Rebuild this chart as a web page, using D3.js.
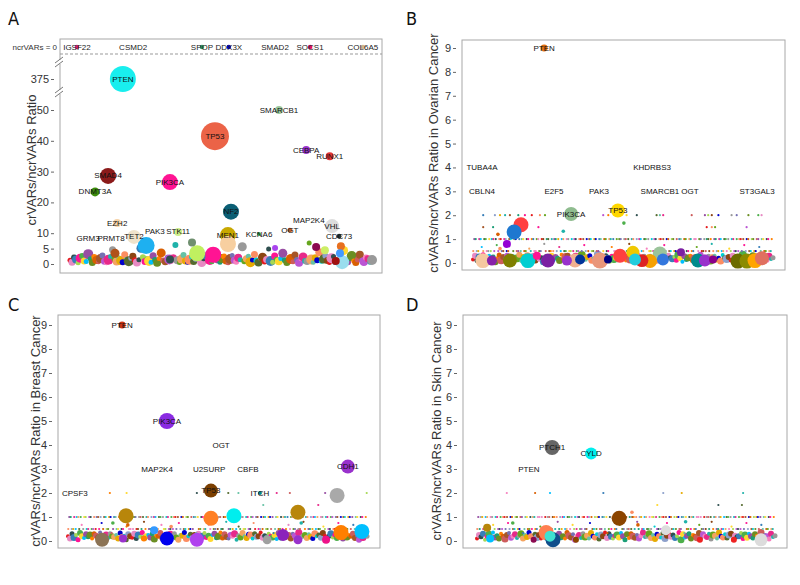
<!DOCTYPE html>
<html><head><meta charset="utf-8">
<script src="https://cdn.jsdelivr.net/npm/d3@7/dist/d3.min.js"></script>
<style>body{margin:0;background:#fff}</style>
</head><body>
<svg id="c" width="800" height="585"></svg>
<script>
// ---------------- DATA ----------------
// Panel A (all cancers) : labelled / notable genes
const aGenes = ["PTEN","TP53","SMARCB1","CEBPA","RUNX1","SMAD4","PIK3CA","DNMT3A","NF2","EZH2","MAP2K4","VHL","OGT","KCNA6","STK11","PAK3","MEN1","TET2","PRMT8","GRM3","CDC73","","","","","","","","","","","","","",""];
const aIdx   = [175,480,692,782,860,126,331,83,533,156,791,868,728,626,358,281,523,212,136,60,891,252,404,474,421,523,815,897,901,149,844,894,880,331,679];
const aRatio = [375,41.5,50,37,35,28.6,26.6,23.4,17,13.3,14,12.3,11,9.7,10.4,10.6,9.4,8.8,8.2,8.2,9,6,7,3,3.5,6.5,5.5,5.8,0.6,3.5,4.5,3.5,1,1.5,5.2];
const aCount = [169,196,16,16,16,64,64,20,64,16,4,49,6,4,16,4,64,49,4,4,6,72,16,64,64,64,16,16,49,20,16,16,16,16,9];
const aColor = ["#19EEEE","#EB6347","#9CC79C","#9933CC","#E23333","#8B1A1A","#FF1493","#3C8C0C","#0B5F75","#F6D3A8","#FFFFFF","#DDDDDD","#C0602A","#33AA55","#CCEE88","#FFFFFF","#C8A800","#EFE3CB","#FFFFFF","#FFFFFF","#223333","#1EB0F0","#6F8F6F","#FF1493","#C0F060","#F7CFA0","#8B0A50","#E8701F","#99DDEE","#B0521A","#CCEE66","#4499FF","#A01010","#2F4F4F","#AA44EE"];
// Panel A genes with ncrVARs = 0
const aTopGenes = ["IGSF22","CSMD2","SPOP","DDX3X","SMAD2","SOCS1","COL6A5"];
const aTopIdx   = [23,209,437,526,679,795,970];
const aTopColor = ["#DD2277","#FFFFFF","#339966","#0000CC","#FFFFFF","#DD1166","#D2B48C"];
const aTicks = [0,5,10,20,30,40,50,375];
// Panel A dense background ratios
const aBg = [1.2,0.6,2.1,1.5,0.4,1.9,2.6,1.0,0.8,3.2,1.7,0.5,2.3,1.3,0.7,1.8,2.8,0.9,0.4,1.4,
 2.4,4.6,1.6,0.8,2.0,1.1,0.6,3.0,1.5,0.9,1.9,2.5,1.2,0.5,1.4,5.1,2.2,0.8,1.7,1.0,
 0.6,2.7,1.3,0.4,1.8,3.6,1.1,0.7,2.2,1.5,0.9,2.0,6.2,1.2,0.5,1.6,2.9,1.0,0.6,1.4,
 2.3,0.8,1.7,3.3,1.2,0.5,1.9,2.6,0.9,1.3,0.7,2.1,4.2,1.5,0.6,1.8,2.4,1.0,0.4,1.6,
 2.8,1.2,0.7,2.0,1.4,5.6,0.9,1.7,2.5,0.6,1.3,3.1,1.1,0.5,1.9,2.2,0.8,1.5,4.9,1.0,
 0.6,2.6,1.4,0.9,1.8,3.5,1.2,0.5,2.1,1.6,0.7,2.9,1.3,0.4,1.7,2.3,1.0,0.8,6.8,1.5,
 0.6,2.0,1.2,3.8,0.9,1.6,2.7,1.1,0.5,1.9,2.4,0.8,1.4,0.6,2.2,4.4,1.3,0.7,1.8,2.6,
 1.0,0.5,1.5,3.0,1.2,0.8,2.1,1.7,0.6,1.3];

// Panel B (ovarian)
const bGenes = ["PTEN","PIK3CA","TP53","TUBA4A","CBLN4","E2F5","PAK3","KHDRBS3","SMARCB1","OGT","ST3GAL3","","","","","","","","","","","","","","","","","","","","","","","","","","","","",""];
const bIdx   = [237,327,483,30,30,270,420,597,623,723,947,160,137,113,533,693,623,33,63,123,183,213,250,313,340,357,423,450,490,540,563,590,633,750,773,800,883,913,940,963,973,943];
const bRatio = [9,2.05,2.2,4,3,3,3,4,3,3,3,1.6,1.3,0.8,0.45,0.45,0.4,0.1,0.1,0.1,0.1,0.3,0.1,0.1,0.1,0.15,0.1,0.15,0.3,0.15,0.1,0.08,0.15,0.1,0.1,0.15,0.08,0.08,0.1,0.2,0.1,0.55];
const bCount = [12,49,49,2,2,2,2,2,2,2,2,56,56,16,42,16,49,56,25,49,56,16,49,25,49,25,64,16,49,36,42,49,36,49,36,16,56,56,56,49,49,16];
const bColor = ["#E07010","#8FBC8F","#FFD700","#FFFFFF","#FFFFFF","#FFFFFF","#FFFFFF","#FFFFFF","#FFFFFF","#FFFFFF","#FFFFFF","#FF4040","#1E78D0","#9400D3","#F0C800","#7B1FA2","#9BC49B","#F5C8A0","#8822AA","#7F7F00","#00CED1","#FF1493","#7B1FA2","#9932CC","#F0B090","#003399","#E9967A","#000080","#FF4040","#22CCDD","#DD2222","#F5A000","#3377DD","#008B8B","#9932CC","#8B008B","#6B6B00","#8B8B00","#FFA500","#E07060","#00BFFF","#DD6655"];
const bRow2  = [34,73,90,107,123,151,173,196,223,240,434,451,512,546,612,623,634,729,773,784,796,818,862,879,918,951,962];
const bRow15 = [34,67,218,779,796,807,912];
const bExtraIdx = [503,83,301,90];
const bExtraRatio = [1.67,1.2,1.33,0.6];
const bLow = [0.15,0.3,0.1,0.25,0.2,0.35,0.1,0.2,0.3,0.15,0.25,0.05,0.2,0.33,0.12,0.25,0.18,0.3,0.1,0.22,
 0.28,0.14,0.2,0.35,0.08,0.25,0.17,0.3,0.12,0.2,0.25,0.1,0.33,0.18,0.22,0.05,0.28,0.15,0.2,0.3,
 0.12,0.25,0.2,0.1,0.35,0.17,0.25,0.3,0.08,0.2,0.15,0.28,0.22,0.1,0.33,0.2,0.14,0.25,0.3,0.12,
 0.2,0.18,0.35,0.1,0.25,0.15,0.3,0.2,0.05,0.28,0.17,0.22,0.12,0.33,0.2,0.25,0.1,0.3,0.15,0.2,
 0.25,0.08,0.33,0.2,0.14,0.28,0.1,0.22,0.3,0.17,0.2,0.12,0.35,0.25,0.15,0.2,0.1,0.3,0.22,0.18,
 0.25,0.12,0.33,0.2,0.05,0.28,0.15,0.22,0.3,0.1,0.2,0.25,0.14,0.35,0.18,0.2,0.12,0.28,0.1,0.25,
 0.3,0.15,0.2,0.08,0.33,0.22,0.17,0.25,0.1,0.3,0.2,0.14,0.28,0.12,0.35,0.2,0.25,0.1,0.18,0.3,
 0.22,0.15,0.25,0.05,0.33,0.2,0.12,0.28,0.17,0.22];
const bMid = [1,0.5,1,0.67,1,0.5,1,1,0.5,0.75,1,0.5,1,0.5,1,0.33,1,0.5,1,1,
 0.5,1,0.6,1,0.5,1,0.5,1,0.8,1,0.5,1,1,0.5,0.67,1,0.5,1,0.5,1,
 1,0.5,1,0.5,0.75,1,1,0.5,1,0.5,1,0.33,1,0.5,1,0.67,0.5,1,1,0.5,
 1,0.5,0.8,1,0.5,1,1,0.5,1,0.6,0.5,1,1,0.5,1,0.5,0.75,1,0.5,1,
 0.5,1,1,0.33,1,0.5,1,0.5,1,0.67,1,0.5,1,1,0.5,0.8,1,0.5,1,0.5,
 1,0.5,0.6,1,0.5,1,1,0.5,0.75,1,0.5,1,0.5,1,0.67,1,0.5,1,0.5,1];

// Panel C (breast)
const cGenes = ["PTEN","PIK3CA","OGT","MAP2K4","U2SURP","CBFB","CDH1","TP53","ITCH","CPSF3","","","","","","","","","","","","","","","","",""];
const cIdx   = [181,331,512,298,472,602,936,478,642,23,900,194,478,555,769,114,184,254,331,288,431,666,719,769,863,913,983];
const cRatio = [9,5,4,3,3,3,3.1,2.1,2,2,1.9,1.05,0.95,1.05,1.2,0.05,0.1,0.1,0.1,0.45,0.05,0.05,0.25,0.05,0.05,0.35,0.4];
const cCount = [12,64,2,2,2,2,49,49,4,2,56,56,56,56,56,49,16,9,49,16,49,20,36,20,16,56,56];
const cColor = ["#CC3311","#8A2BE2","#FFFFFF","#FFFFFF","#FFFFFF","#FFFFFF","#9932CC","#7B3F00","#00868B","#FFFFFF","#A9A9A9","#B8860B","#FF7F24","#00EEEE","#B8860B","#8B7355","#9932CC","#FF7F00","#0000EE","#3399FF","#B041EE","#A0A0A0","#8B22BB","#9932CC","#EE1289","#FF7F00","#00BFFF"];
const cRow2  = [140,196,431,536,570,698,742,860,999];
const cRow15 = [653,837];
const cExtraIdx = [150,200,780,345];
const cExtraRatio = [0.75,0.67,0.75,0.6];
const cLow = [0.2,0.1,0.3,0.15,0.25,0.05,0.33,0.2,0.12,0.28,0.18,0.25,0.1,0.3,0.22,0.15,0.35,0.08,0.2,0.25,
 0.12,0.3,0.2,0.17,0.25,0.1,0.33,0.15,0.22,0.05,0.28,0.2,0.14,0.3,0.1,0.25,0.18,0.35,0.12,0.2,
 0.25,0.15,0.3,0.08,0.22,0.2,0.33,0.12,0.25,0.17,0.1,0.28,0.2,0.3,0.15,0.05,0.25,0.22,0.35,0.1,
 0.2,0.28,0.12,0.25,0.18,0.3,0.1,0.2,0.33,0.15,0.22,0.08,0.25,0.3,0.14,0.2,0.35,0.12,0.28,0.17,
 0.1,0.25,0.2,0.3,0.05,0.22,0.15,0.33,0.2,0.12,0.28,0.25,0.1,0.3,0.18,0.2,0.35,0.14,0.22,0.1,
 0.3,0.2,0.15,0.25,0.08,0.33,0.12,0.28,0.2,0.17,0.25,0.1,0.3,0.22,0.05,0.35,0.15,0.2,0.25,0.12,
 0.28,0.18,0.1,0.3,0.2,0.25,0.14,0.33,0.22,0.08,0.2,0.3,0.15,0.25,0.12,0.35,0.2,0.1,0.28,0.17,
 0.25,0.2,0.3,0.12,0.22,0.05,0.33,0.15,0.25,0.2];
const cMid = [1,0.5,1,1,0.5,0.67,1,0.5,1,0.5,1,1,0.5,0.75,1,0.5,1,0.33,1,0.5,
 1,0.5,1,0.6,0.5,1,1,0.5,1,0.5,0.8,1,0.5,1,1,0.5,1,0.67,0.5,1,
 0.5,1,1,0.5,0.75,1,0.5,1,0.5,1,1,0.33,0.5,1,0.5,1,0.67,1,0.5,1,
 1,0.5,1,0.8,0.5,1,1,0.5,0.6,1,0.5,1,0.5,1,0.75,1,0.5,1,1,0.5,
 1,0.5,0.33,1,0.5,1,1,0.5,0.67,1,0.5,1,0.5,1,0.8,1,0.5,1,1,0.5,
 0.5,1,0.6,1,0.5,1,0.5,1,0.75,1,1,0.5,1,0.5,0.67,1,0.5,1,0.5,1];

// Panel D (skin)
const dGenes = ["PTCH1","CYLD","PTEN","","","","","","","","","","","",""];
const dIdx   = [252,383,174,477,34,44,232,245,255,332,634,953,748,862,190];
const dRatio = [3.9,3.65,3,0.95,0.55,0.1,0.35,0.2,0.05,0.05,0.45,0.05,0.05,0.05,0.05];
const dCount = [56,36,2,56,16,16,56,30,56,9,25,42,9,9,9];
const dColor = ["#666666","#00EEEE","#FFFFFF","#8B4500","#B8860B","#00BFFF","#FF7F50","#40E0D0","#104E8B","#8B4500","#DCDCDC","#DCDCDC","#EE2222","#EE2222","#8B0A50"];
const dRow2  = [100,195,245,424,625,687,893];
const dRow15 = [605,810,889];
const dExtraIdx = [120,540,700,520];
const dExtraRatio = [0.75,0.67,0.8,1.2];
const dLow = [0.1,0.25,0.18,0.3,0.05,0.2,0.28,0.12,0.35,0.15,0.22,0.1,0.3,0.2,0.08,0.25,0.33,0.14,0.2,0.28,
 0.12,0.22,0.3,0.1,0.25,0.17,0.35,0.2,0.05,0.28,0.15,0.25,0.1,0.3,0.2,0.12,0.33,0.18,0.22,0.08,
 0.25,0.3,0.14,0.2,0.1,0.35,0.22,0.15,0.28,0.05,0.2,0.25,0.12,0.3,0.17,0.22,0.1,0.33,0.2,0.15,
 0.28,0.08,0.25,0.2,0.35,0.12,0.3,0.18,0.1,0.22,0.25,0.15,0.33,0.2,0.05,0.28,0.12,0.3,0.2,0.14,
 0.25,0.1,0.22,0.35,0.17,0.2,0.3,0.12,0.25,0.08,0.28,0.2,0.15,0.33,0.1,0.22,0.3,0.18,0.25,0.12,
 0.2,0.35,0.05,0.28,0.15,0.22,0.3,0.1,0.25,0.2,0.14,0.33,0.12,0.28,0.2,0.17,0.3,0.08,0.25,0.22,
 0.1,0.35,0.2,0.15,0.28,0.12,0.25,0.3,0.05,0.22,0.18,0.2,0.33,0.1,0.25,0.14,0.3,0.2,0.12,0.28,
 0.22,0.15,0.35,0.1,0.25,0.2,0.08,0.3,0.17,0.22];
const dMid = [1,1,0.5,1,0.5,1,0.67,1,0.5,1,1,0.5,0.75,1,0.5,1,0.5,1,0.33,1,
 0.5,1,1,0.5,1,0.6,0.5,1,1,0.5,1,0.5,0.8,1,1,0.5,1,0.5,0.67,1,
 1,0.5,1,0.5,1,0.75,0.5,1,1,0.5,1,0.5,0.33,1,1,0.5,1,0.67,0.5,1,
 0.5,1,1,0.5,0.8,1,0.5,1,0.5,1,1,0.6,0.5,1,1,0.5,0.75,1,0.5,1,
 1,0.5,1,0.33,0.5,1,1,0.5,1,0.67,0.5,1,1,0.5,0.8,1,0.5,1,0.5,1,
 1,0.5,0.6,1,0.5,1,1,0.5,0.75,1,0.5,1,1,0.5,0.67,1,0.5,1,0.5,1];
const bcdTicks = [0,1,2,3,4,5,6,7,8,9];

// ---------------- DRAW ----------------
const FONT = "'Liberation Sans', Arial, Helvetica, sans-serif";
const palette = ["#E41A1C","#377EB8","#4DAF4A","#984EA3","#FF7F00","#A65628","#F781BF","#999999","#66C2A5","#FC8D62","#8DA0CB","#E78AC3","#A6D854","#FFD92F","#1B9E77","#D95F02","#7570B3","#E7298A","#66A61E","#E6AB02","#00CED1","#8B4513","#2F4F4F","#FF1493","#00BFFF","#6B8E23","#CD5C5C","#BA55D3","#20B2AA","#F4A460","#0000CD","#556B2F"];
const svg = d3.select("#c");
const rScale = d3.scaleSqrt().domain([0,400]).range([0,20]);

function zip(genes, idx, ratio, count, color){
  return genes.map((g,i)=>({gene:g, idx:idx[i], ratio:ratio[i], count:count[i], color:color[i]}));
}

function drawPanel(p){
  const g = svg.append("g");
  const x = d3.scaleLinear().domain([0,1000]).range(p.xr);
  const y = p.y;
  g.append("rect").attr("x",p.x0).attr("y",p.y0).attr("width",p.x1-p.x0).attr("height",p.y1-p.y0)
    .attr("fill","none").attr("stroke","#a8a8a8").attr("stroke-width",1);
  const ax = d3.axisLeft(y).tickValues(p.ticks).tickSize(3).tickPadding(2).tickFormat(d3.format("d"));
  const axg = g.append("g").attr("transform",`translate(${p.x0-6},0)`).call(ax);
  axg.select(".domain").remove();
  axg.selectAll("line").attr("stroke","#666");
  axg.selectAll("text").attr("font-size",11).attr("font-family",FONT).attr("fill","#333");
  g.append("text").attr("transform",`translate(${p.tx},${p.ty}) rotate(-90)`)
    .attr("text-anchor","middle").attr("dominant-baseline","central")
    .attr("font-size",13).attr("font-family",FONT).attr("fill","#333").text(p.title);
  g.append("text").attr("x",p.lx).attr("y",p.ly).attr("font-size",18)
    .attr("font-family","'Liberation Sans Narrow','DejaVu Sans Condensed',sans-serif").attr("fill","#111").text(p.letter);
  // dense low band
  const n = p.low.length;
  g.append("g").selectAll("circle").data(p.low).join("circle")
    .attr("cx",(d,i)=>x(i*1000/(n-1))).attr("cy",d=>y(d))
    .attr("r",(d,i)=>p.lowR[i%p.lowR.length])
    .attr("fill",(d,i)=>palette[(i*11)%palette.length]);
  // mid rows
  if(p.mid){
    const m = p.mid.length;
    g.append("g").selectAll("circle").data(p.mid).join("circle")
      .attr("cx",(d,i)=>x((i+0.5)*1000/m)).attr("cy",d=>y(d)).attr("r",1.1)
      .attr("fill",(d,i)=>palette[(i*7+3)%palette.length]);
    g.append("g").selectAll("circle").data(p.mid).join("circle")
      .attr("cx",(d,i)=>x((i+0.1)*1000/m)).attr("cy",d=>y(d===1?0.5:1)).attr("r",1.1)
      .attr("fill",(d,i)=>palette[(i*5+9)%palette.length]);
  }
  if(p.rows){
    p.rows.forEach(r=>{
      g.append("g").selectAll("circle").data(r.idx).join("circle")
        .attr("cx",d=>x(d)).attr("cy",y(r.v)).attr("r",1.1)
        .attr("fill",(d,i)=>palette[(i*9+r.c)%palette.length]);
    });
  }
  if(p.extra){
    g.append("g").selectAll("circle").data(p.extra).join("circle")
      .attr("cx",d=>x(d.idx)).attr("cy",d=>y(d.ratio)).attr("r",1.8)
      .attr("fill",(d,i)=>palette[(i*13+2)%palette.length]);
  }
  const bub = p.bubbles.slice().sort((a,b)=>b.count-a.count);
  g.append("g").selectAll("circle").data(bub).join("circle")
    .attr("cx",d=>x(d.idx)).attr("cy",d=>y(d.ratio)).attr("r",d=>rScale(d.count))
    .attr("fill",d=>d.color);
  g.append("g").selectAll("text").data(p.bubbles.filter(d=>d.gene)).join("text")
    .attr("x",d=>x(d.idx)).attr("y",d=>y(d.ratio)).attr("text-anchor","middle")
    .attr("dominant-baseline","central").attr("font-size",8).attr("font-family",FONT).attr("fill","#111")
    .text(d=>d.gene);
  return {g,x,y};
}

// Panel A
const yA = d3.scaleLinear().domain([0,50,375]).range([264,110,79]);
const A = drawPanel({x0:60,y0:39,x1:382,y1:273,xr:[70,372],y:yA,ticks:aTicks,
  title:"crVARs/ncrVARs Ratio",tx:31,ty:160,letter:"A",lx:8,ly:25,
  low:aBg,lowR:[2.5,3.5,3,4,2.5,4.5,3,3.5,2.5,5],
  bubbles:zip(aGenes,aIdx,aRatio,aCount,aColor)});
const topY = 47;
A.g.append("line").attr("x1",60).attr("x2",382).attr("y1",54).attr("y2",54)
  .attr("stroke","#999").attr("stroke-dasharray","3,2");
A.g.append("text").attr("x",57).attr("y",topY).attr("text-anchor","end").attr("dominant-baseline","central")
  .attr("font-size",8).attr("font-family",FONT).attr("fill","#333").text("ncrVARs = 0");
A.g.append("g").selectAll("circle").data(aTopIdx).join("circle")
  .attr("cx",d=>A.x(d)).attr("cy",topY).attr("r",2.3).attr("fill",(d,i)=>aTopColor[i]);
A.g.append("g").selectAll("text").data(aTopGenes).join("text")
  .attr("x",(d,i)=>A.x(aTopIdx[i])).attr("y",topY).attr("text-anchor","middle").attr("dominant-baseline","central")
  .attr("font-size",8).attr("font-family",FONT).attr("fill","#222").text(d=>d);
[62,92].forEach(yy=>{
  A.g.append("rect").attr("x",56).attr("y",yy-2).attr("width",7).attr("height",4).attr("fill","#fff");
  [-2,2].forEach(o=>{
    A.g.append("line").attr("x1",55).attr("x2",63).attr("y1",yy+o+3).attr("y2",yy+o-3)
      .attr("stroke","#777").attr("stroke-width",1);
  });
});

// Panel B
drawPanel({x0:462,y0:40,x1:785,y1:270,xr:[473,773],y:d3.scaleLinear().domain([0,9]).range([263,48]),ticks:bcdTicks,
  title:"crVARs/ncrVARs Ratio in Ovarian Cancer",tx:433,ty:153,letter:"B",lx:406,ly:25,
  low:bLow,lowR:[2,3,2.5,3.5,2,2.5,4,3],mid:bMid,
  rows:[{v:2,idx:bRow2,c:1},{v:1.5,idx:bRow15,c:5}],
  extra:bExtraIdx.map((d,i)=>({idx:d,ratio:bExtraRatio[i]})),
  bubbles:zip(bGenes,bIdx,bRatio,bCount,bColor)});

// Panel C
drawPanel({x0:58,y0:315,x1:380,y1:548,xr:[68,367],y:d3.scaleLinear().domain([0,9]).range([541,325]),ticks:bcdTicks,
  title:"crVARs/ncrVARs Ratio in Breast Cancer",tx:35,ty:431,letter:"C",lx:8,ly:311,
  low:cLow,lowR:[2,3,2.5,3.5,2,2.5,3,3],mid:cMid,
  rows:[{v:2,idx:cRow2,c:4},{v:1.5,idx:cRow15,c:8}],
  extra:cExtraIdx.map((d,i)=>({idx:d,ratio:cExtraRatio[i]})),
  bubbles:zip(cGenes,cIdx,cRatio,cCount,cColor)});

// Panel D
drawPanel({x0:463,y0:315,x1:787,y1:548,xr:[477,775],y:d3.scaleLinear().domain([0,9]).range([541,325]),ticks:bcdTicks,
  title:"crVARs/ncrVARs Ratio in Skin Cancer",tx:436,ty:431,letter:"D",lx:406,ly:311,
  low:dLow,lowR:[2,3,2.5,3,2,2.5,3.5,3],mid:dMid,
  rows:[{v:2,idx:dRow2,c:6},{v:1.5,idx:dRow15,c:13}],
  extra:dExtraIdx.map((d,i)=>({idx:d,ratio:dExtraRatio[i]})),
  bubbles:zip(dGenes,dIdx,dRatio,dCount,dColor)});
</script>
</body></html>
